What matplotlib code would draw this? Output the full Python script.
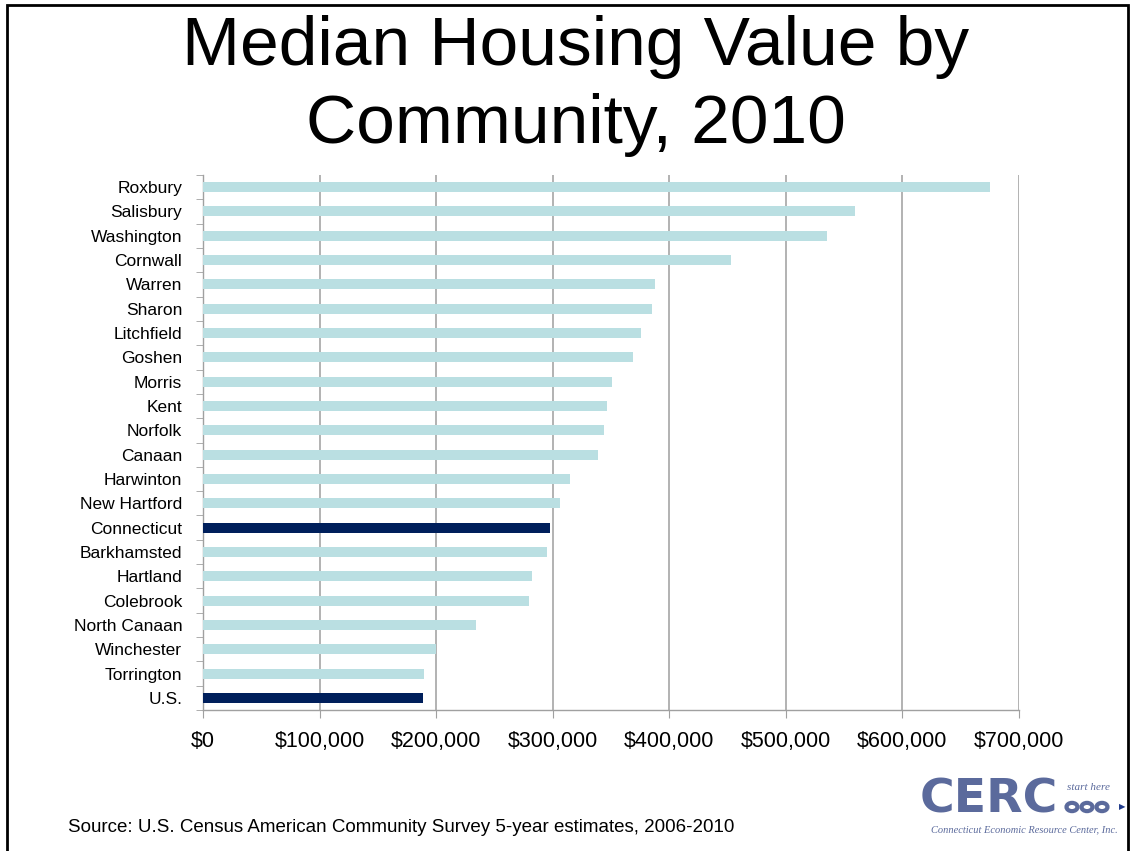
import matplotlib.pyplot as plt
from matplotlib.patches import Rectangle, Circle
from matplotlib.ticker import FuncFormatter, FixedLocator
import numpy as np

plt.rcParams['font.family'] = ['Liberation Sans', 'DejaVu Sans']

communities = ["Roxbury", "Salisbury", "Washington", "Cornwall", "Warren", "Sharon",
               "Litchfield", "Goshen", "Morris", "Kent", "Norfolk", "Canaan",
               "Harwinton", "New Hartford", "Connecticut", "Barkhamsted", "Hartland",
               "Colebrook", "North Canaan", "Winchester", "Torrington", "U.S."]
values = [675000, 559300, 535300, 453000, 387900, 385300,
          375600, 369000, 350500, 346200, 344200, 338800,
          314500, 306200, 297600, 295000, 282200,
          279600, 234100, 199600, 189800, 188700]
highlight = ["Connecticut", "U.S."]
title_lines = ["Median Housing Value by", "Community, 2010"]

light = '#badfe2'
dark = '#001f5b'

fig = plt.figure(figsize=(11.34, 8.51), dpi=100)
W, H = 1134, 851

# slide frame
fig.patches.append(Rectangle((7 / W, -0.01), 1121 / W, 1.0 - 5 / H + 0.01,
                             transform=fig.transFigure, fill=False,
                             edgecolor='black', linewidth=2))

fig.text(576 / W, 1 - 47 / H, title_lines[0], ha='center', va='center', fontsize=50)
fig.text(576 / W, 1 - 125 / H, title_lines[1], ha='center', va='center', fontsize=50)

ax = fig.add_axes([203 / W, 1 - 710 / H, (1019 - 203) / W, (710 - 175) / H])
y = np.arange(len(communities))
colors = [dark if c in highlight else light for c in communities]
ax.barh(y, values, height=0.41, color=colors, zorder=3)
ax.set_ylim(len(communities) - 0.5, -0.5)
ax.set_xlim(0, 700000)

ax.set_yticks(y)
ax.set_yticklabels(communities, fontsize=12.5)
ax.yaxis.set_minor_locator(FixedLocator(np.arange(-0.5, len(communities), 1)))
ax.tick_params(axis='y', which='major', length=0, pad=15)
ax.tick_params(axis='y', which='minor', length=5, color='#a0a0a0', direction='out')

ax.set_xticks(np.arange(0, 700001, 100000))
ax.xaxis.set_major_formatter(FuncFormatter(lambda v, p: f"${v:,.0f}"))
ax.tick_params(axis='x', labelsize=15.5, length=6, color='#a0a0a0', pad=9)
ax.grid(axis='x', color='#a6a6a6', linewidth=1.2, zorder=0)

for s in ['top', 'right']:
    ax.spines[s].set_visible(False)
for s in ['left', 'bottom']:
    ax.spines[s].set_color('#a0a0a0')
    ax.spines[s].set_linewidth(1.0)

fig.text(68 / W, 1 - 828 / H,
         "Source: U.S. Census American Community Survey 5-year estimates, 2006-2010",
         ha='left', va='center', fontsize=13.5)

# CERC logo approximation
logo_c = '#5b6a9c'
fig.text(920 / W, 1 - 800 / H, "CERC", ha='left', va='center', fontsize=34,
         fontweight='bold', color=logo_c, family=['DejaVu Sans'])
fig.text(1067 / W, 1 - 787 / H, "start here", ha='left', va='center', fontsize=8,
         style='italic', color=logo_c, family=['Liberation Serif'])
for cx in (1072, 1087, 1102):
    fig.patches.append(Circle((cx / W, 1 - 807 / H), 5.5 / W, transform=fig.transFigure,
                              facecolor='white', edgecolor=logo_c, linewidth=3))
fig.text(1122 / W, 1 - 807 / H, u"\u25b6", ha='center', va='center', fontsize=6,
         color='#1f3a8a', family=['DejaVu Sans'])
fig.text(1024 / W, 1 - 830 / H, "Connecticut Economic Resource Center, Inc.",
         ha='center', va='center', fontsize=7.5, style='italic', color=logo_c,
         family=['Liberation Serif'])

fig.savefig('out.png', dpi=100)
